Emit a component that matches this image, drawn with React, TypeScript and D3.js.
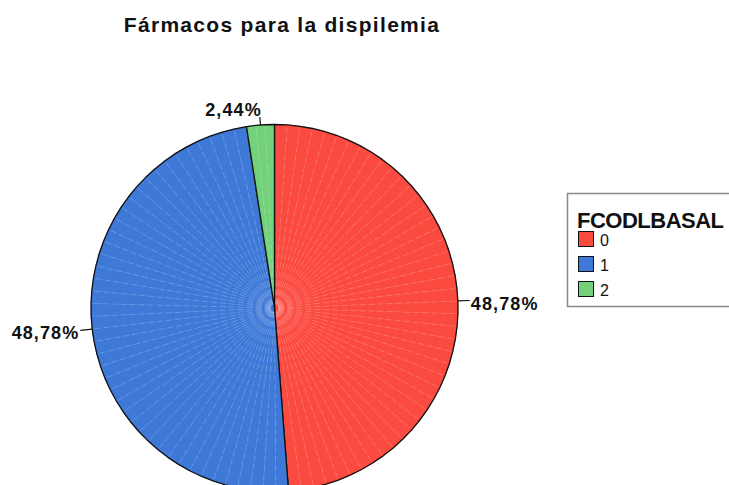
import React from "react";
import * as d3 from "d3";

const categories = ["0", "1", "2"];
const values = [48.78, 48.78, 2.44];
const labels = ["48,78%", "48,78%", "2,44%"];
const colors = ["#FB4A40", "#3E79D8", "#72D17A"];
const title = "Fármacos para la dispilemia";
const legendTitle = "FCODLBASAL";

const W = 729;
const H = 485;
const cx = 274.5;
const cy = 308;
const R = 183.5;

export default function App() {
  const pie = d3.pie<number>().sort(null).value((d) => d);
  const arcs = pie(values);
  const pt = (a: number, r: number): [number, number] => [
    cx + Math.sin(a) * r,
    cy - Math.cos(a) * r,
  ];
  const step = (4 * Math.PI) / 180;

  return (
    <svg
      width={W}
      height={H}
      style={{ position: "absolute", left: 0, top: 0, background: "#fff" }}
      fontFamily="'Liberation Sans', Arial, sans-serif"
    >
      <text x={282} y={32} textAnchor="middle" fontSize={21} fontWeight="bold" letterSpacing={1.3} fill="#111">
        {title}
      </text>
      {arcs.map((a, i) => {
        const n = Math.max(1, Math.ceil((a.endAngle - a.startAngle) / step));
        const angs = d3.range(n + 1).map((k) => a.startAngle + ((a.endAngle - a.startAngle) * k) / n);
        const wedges = d3.range(n).map((k) => {
          const p0 = pt(angs[k], R);
          const p1 = pt(angs[k + 1], R);
          return `M${cx},${cy}L${p0[0]},${p0[1]}L${p1[0]},${p1[1]}Z`;
        });
        const outline =
          `M${cx},${cy}` + angs.map((g) => { const p = pt(g, R); return `L${p[0]},${p[1]}`; }).join("") + "Z";
        return (
          <g key={i}>
            {wedges.map((d, k) => (
              <path key={k} d={d} fill={colors[i]} stroke={colors[i]} strokeWidth={0.6} />
            ))}
            {angs.slice(1, -1).map((g, k) => {
              const p = pt(g, R);
              const q = pt(g, 4);
              return (
                <line key={"l" + k} x1={q[0]} y1={q[1]} x2={p[0]} y2={p[1]} stroke="#fff" strokeOpacity={0.22} strokeWidth={0.8} strokeDasharray="6,3" />
              );
            })}
            <path d={outline} fill="none" stroke="#111" strokeWidth={1.3} strokeLinejoin="round" />
          </g>
        );
      })}
      {arcs.map((a, i) => {
        const mid = (a.startAngle + a.endAngle) / 2;
        const p0 = pt(mid, R);
        const p1 = pt(mid, R + 12);
        const right = Math.sin(mid) > 0.5;
        const left = Math.sin(mid) < -0.5;
        let tx = p1[0];
        let ty = p1[1];
        let anchor: "start" | "end" | "middle" = "middle";
        if (right) { anchor = "start"; tx = p1[0] + 1; ty = p1[1] + 9; }
        else if (left) { anchor = "end"; tx = p1[0] - 1; ty = p1[1] + 9; }
        else { tx = p1[0] - 26; ty = p1[1] + 3; }
        const lineEnd = !right && !left ? pt(mid, R + 8) : p1;
        return (
          <g key={"lab" + i}>
            <line x1={p0[0]} y1={p0[1]} x2={lineEnd[0]} y2={lineEnd[1]} stroke="#111" strokeWidth={1.2} />
            <text x={tx} y={ty} textAnchor={anchor} fontSize={18} fontWeight="bold" letterSpacing={1.1} fill="#111">
              {labels[i]}
            </text>
          </g>
        );
      })}
      <rect x={567.5} y={193.5} width={170} height={113} fill="#fff" stroke="#888" strokeWidth={1.5} />
      <text x={577} y={228} fontSize={22} fontWeight="bold" letterSpacing={-0.5} fill="#111">
        {legendTitle}
      </text>
      {categories.map((c, i) => (
        <g key={"lg" + i}>
          <rect x={578.5} y={231.5 + i * 25} width={15} height={15} fill={colors[i]} stroke="#111" strokeWidth={1} />
          <text x={600} y={246 + i * 25} fontSize={16} fill="#111">{c}</text>
        </g>
      ))}
    </svg>
  );
}
